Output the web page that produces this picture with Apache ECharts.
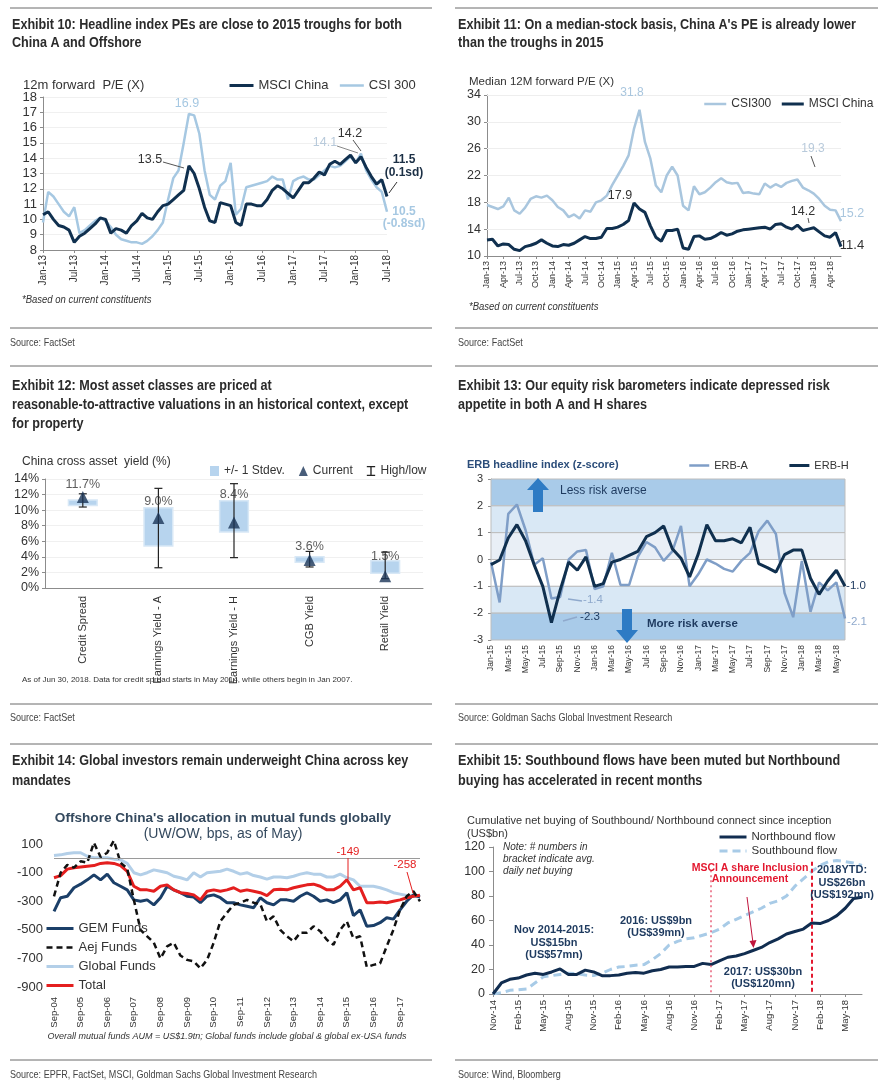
<!DOCTYPE html>
<html><head><meta charset="utf-8">
<script src="https://cdn.jsdelivr.net/npm/echarts@6/dist/echarts.min.js"></script>
<style>html,body{margin:0;padding:0;background:#fff}#c{width:890px;height:1092px}</style>
</head><body><div id="c"></div>
<script>
// ---------------- DATA ----------------
const MON = ['Jan','Feb','Mar','Apr','May','Jun','Jul','Aug','Sep','Oct','Nov','Dec'];
function monthLabels(y0, m0, n, step) {
  const out = [];
  for (let i = 0; i < n; i++) { const t = y0 * 12 + m0 + i * step; out.push(MON[t % 12] + '-' + String(Math.floor(t / 12)).slice(-2)); }
  return out;
}
// Exhibit 10 (monthly Jan-13 .. Jul-18)
const months10 = monthLabels(2013, 0, 67, 1);
const msciChinaPE = [10.3,10.5,10.0,9.6,9.5,9.3,8.5,8.9,9.1,9.4,9.7,10.1,
  10.0,9.1,9.4,9.3,9.1,9.6,9.9,10.4,10.1,10.0,10.5,10.9,
  11.0,11.3,11.6,11.9,13.5,13.0,12.0,10.8,9.9,9.8,11.1,11.0,
  10.9,9.8,9.6,11.0,11.0,10.9,10.9,11.3,11.9,12.2,12.0,11.7,
  11.4,11.9,12.4,12.4,12.7,13.1,12.9,13.6,13.8,13.6,13.9,14.2,
  13.7,14.1,13.4,12.8,12.3,12.6,11.5];
const csi300PE = [9.8,11.8,11.5,11.0,10.5,10.2,10.8,9.1,9.3,9.6,9.9,10.1,
  9.9,9.5,9.0,8.7,8.6,8.5,8.5,8.4,8.6,8.9,9.3,9.8,
  11.3,12.7,13.2,15.0,16.9,16.8,15.6,13.2,11.6,11.3,12.2,12.5,
  13.7,10.3,10.7,12.1,12.2,12.3,12.4,12.5,12.8,12.6,12.6,11.3,
  12.5,12.7,12.8,12.6,12.6,12.9,13.2,13.5,13.4,13.5,13.8,14.1,
  13.7,14.3,13.2,12.6,12.1,11.8,10.5];
// Exhibit 11 (monthly Jan-13 .. Jun-18)
const months11 = monthLabels(2013, 0, 66, 1);
const csi300Median = [17.6,17.3,17.0,17.4,18.7,16.8,16.3,17.2,18.5,18.9,18.7,19.0,
  18.3,17.3,16.8,15.8,16.2,15.6,16.8,16.6,18.0,18.3,19.0,20.6,
  22.0,23.4,25.0,29.0,31.8,27.0,24.5,20.5,19.5,22.0,23.3,22.0,
  17.5,16.8,20.4,19.2,19.5,20.2,21.0,21.6,21.0,20.8,20.9,19.4,
  19.5,19.3,19.2,20.8,20.2,20.7,20.3,20.9,21.2,21.4,20.2,19.8,
  19.3,18.5,17.5,16.9,16.8,15.2];
const msciChinaMedian = [12.4,12.5,11.5,11.8,11.7,11.0,10.8,11.4,11.6,11.9,12.4,11.9,
  11.5,11.4,11.7,11.6,11.9,12.4,12.9,12.6,12.6,12.8,14.1,14.1,
  14.3,14.7,15.3,17.9,17.0,16.5,14.5,12.8,12.2,13.8,13.8,14.0,
  11.2,11.0,12.9,13.0,12.5,12.6,13.0,13.5,13.1,13.3,13.7,13.9,
  14.0,14.1,14.2,14.3,14.0,14.7,14.8,14.3,14.0,14.6,13.8,14.0,
  14.2,13.6,13.0,12.8,13.5,11.4];
const ticks11 = [10,14,18,22,26,30,34];
// Exhibit 12
const assetClasses = ['Credit Spread','Earnings Yield - A','Earnings Yield - H','CGB Yield','Retail Yield'];
const stdevLow  = [10.6, 5.4, 7.2, 3.3, 1.9];
const stdevHigh = [11.3, 10.3, 11.2, 4.0, 3.5];
const histLow   = [10.4, 2.6, 3.9, 2.7, 1.2];
const histHigh  = [12.1, 12.8, 13.4, 4.7, 4.6];
const currentYield = [11.7, 9.0, 8.4, 3.6, 1.5];
// Exhibit 13 (monthly Jan-15 .. Jun-18)
const months13 = monthLabels(2015, 0, 42, 1);
const erbA = [-0.1,-1.6,1.7,2.05,1.1,-0.2,0.05,-1.45,-1.4,0.0,0.3,0.35,
  -1.1,-1.0,0.25,-0.95,-0.95,0.1,0.65,0.45,-0.05,0.3,1.25,-1.0,
  -0.55,0.0,-0.15,-0.35,-0.45,-0.05,0.25,1.05,1.45,0.95,-1.25,-2.15,
  -0.05,-1.95,-0.85,-1.15,-0.85,-2.2];
const erbH = [-0.19,-0.02,0.8,1.3,0.7,-0.2,-1.0,-2.35,-1.15,-0.1,-0.4,0.1,
  -1.0,-0.9,-0.1,0.0,0.15,0.3,0.85,1.0,1.25,0.4,0.05,-0.65,
  0.2,1.3,0.7,0.7,0.77,0.62,1.2,-0.15,-0.3,-0.47,0.18,0.35,
  0.35,-0.7,-1.3,-0.8,-0.4,-1.0];
// Exhibit 14 (quarterly Sep-04 .. Jun-18)
const quarters14 = monthLabels(2004, 8, 56, 3);
const gemFunds = [-370,-275,-265,-205,-180,-150,-115,-150,-110,-170,-195,-220,
  -290,-300,-290,-325,-275,-195,-220,-240,-265,-270,-310,-265,
  -255,-275,-310,-310,-325,-335,-345,-275,-310,-325,-290,-290,
  -300,-265,-240,-265,-300,-290,-310,-290,-240,-400,-360,-475,
  -470,-450,-415,-425,-360,-300,-255,-270];
const aejFunds = [-265,-100,-45,-65,-20,-30,110,10,40,125,-30,-70,
  -290,-500,-545,-590,-700,-615,-590,-680,-710,-720,-770,-710,
  -590,-440,-380,-325,-310,-290,-310,-320,-440,-405,-500,-545,
  -580,-520,-520,-475,-510,-570,-605,-500,-440,-560,-545,-760,
  -745,-735,-615,-500,-360,-265,-230,-300];
const globalFunds = [20,25,35,40,40,15,5,5,5,-5,-10,-35,
  -100,-115,-100,-80,-90,-100,-125,-135,-150,-100,-130,-100,
  -95,-90,-75,-90,-110,-100,-120,-130,-145,-130,-130,-135,
  -125,-110,-100,-110,-110,-130,-130,-110,-135,-150,-195,-195,
  -195,-205,-220,-240,-250,-260,-265,-270];
const totalFunds = [-135,-120,-75,-65,-60,-55,-50,-35,-30,-35,-50,-90,
  -195,-220,-220,-230,-195,-185,-220,-240,-245,-255,-290,-230,
  -220,-230,-220,-205,-230,-220,-230,-240,-260,-220,-215,-220,
  -205,-195,-185,-180,-195,-220,-220,-195,-149,-220,-205,-310,
  -310,-305,-310,-300,-290,-275,-265,-258];
const ticks14 = [-900,-700,-500,-300,-100,100];
// Exhibit 15 (monthly Nov-14 .. Jul-18, US$bn)
const months15 = monthLabels(2014, 10, 45, 1);
const northbound = [0,9,12,13,15.5,17,16,18,20.5,16,16,19.5,18,15,15,15.5,17,17.5,17,19,20,22,22,22.5,22.5,
  25,24,27,30,31,33,35.5,38,42,45,49,51,53,58,57.5,60,64,70,78,79];
const southbound = [0,1,3,3.5,4,9,14,15,16,17,16.5,15.5,15,17,20,22,22.5,23.5,24,28,33,40,43,45,46,
  48,50,53,58,61,64,67,70,74,76,80,88,94,100,105,108,109,108,107,105];

// ---------------- STYLE ----------------
const SANS = '"Liberation Sans",Arial,Helvetica,sans-serif';
const NAVY = '#10304f';
const AX = '#8c8c8c';
function txt(x, y, text, font, fill, align, sx) {
  const el = {type:'text', x:x, y:y, z:100, silent:true,
    style:{text:text, font:font, fill:fill || '#333', align:align || 'left', verticalAlign:'middle'}};
  if (sx) el.scaleX = sx;
  return el;
}
function ln(x1, y1, x2, y2, stroke, w) {
  return {type:'line', z:100, silent:true, shape:{x1:x1, y1:y1, x2:x2, y2:y2}, style:{stroke:stroke || '#555', lineWidth:w || 1}};
}
const F = (s) => s + 'px ' + SANS;

const gfx = [];
[8, 328, 366, 704, 744, 1060].forEach(y => { gfx.push(ln(10, y, 432, y, '#6b6b6b', 1)); gfx.push(ln(455, y, 878, y, '#6b6b6b', 1)); });
const TF = 'bold 14px ' + SANS, SF = '10.5px ' + SANS;
[[12,25,'Exhibit 10: Headline index PEs are close to 2015 troughs for both'],[12,43,'China A and Offshore'],
 [458,25,"Exhibit 11: On a median-stock basis, China A's PE is already lower"],[458,43,'than the troughs in 2015'],
 [12,386,'Exhibit 12: Most asset classes are priced at'],[12,405,'reasonable-to-attractive valuations in an historical context, except'],[12,424,'for property'],
 [458,386,'Exhibit 13: Our equity risk barometers indicate depressed risk'],[458,405,'appetite in both A and H shares'],
 [12,761,'Exhibit 14: Global investors remain underweight China across key'],[12,781,'mandates'],
 [458,761,'Exhibit 15: Southbound flows have been muted but Northbound'],[458,781,'buying has accelerated in recent months']
].forEach(t => gfx.push(txt(t[0], t[1], t[2], TF, '#2b2b2b', 'left', 0.9)));
[[10,343,'Source: FactSet'],[458,343,'Source: FactSet'],[10,718,'Source: FactSet'],
 [458,718,'Source: Goldman Sachs Global Investment Research'],
 [10,1075,'Source: EPFR, FactSet, MSCI, Goldman Sachs Global Investment Research'],[458,1075,'Source: Wind, Bloomberg']
].forEach(t => gfx.push(txt(t[0], t[1], t[2], SF, '#444', 'left', 0.86)));

// panel 1 texts
gfx.push(txt(23, 85, '12m forward  P/E (X)', F(13)));
gfx.push(txt(22, 300, '*Based on current constituents', 'italic ' + F(10), '#333', 'left', 0.95));
gfx.push(txt(187, 104, '16.9', F(12.5), '#a6c8e2', 'center'));
gfx.push(txt(150, 160, '13.5', F(12.5), '#333', 'center'), ln(163, 162, 184, 168, '#555'));
gfx.push(txt(325, 143, '14.1', F(12.5), '#b8cadb', 'center'), ln(337, 146, 358, 153, '#888'));
gfx.push(txt(350, 134, '14.2', F(12.5), '#333', 'center'), ln(353, 140, 361, 151, '#555'));
gfx.push(txt(404, 160, '11.5', 'bold ' + F(12), '#1b2f45', 'center'), txt(404, 173, '(0.1sd)', 'bold ' + F(12), '#1b2f45', 'center'), ln(397, 182, 389, 193, '#333'));
gfx.push(txt(404, 212, '10.5', 'bold ' + F(12), '#a6c8e2', 'center'), txt(404, 224, '(-0.8sd)', 'bold ' + F(12), '#a6c8e2', 'center'));
// panel 2 texts
gfx.push(txt(469, 82, 'Median 12M forward P/E (X)', F(11.5)));
gfx.push(txt(469, 307, '*Based on current constituents', 'italic ' + F(10), '#333', 'left', 0.95));
gfx.push(txt(632, 93, '31.8', F(12), '#a9c6de', 'center'));
gfx.push(txt(620, 196, '17.9', F(12.5), '#333', 'center'));
gfx.push(txt(813, 149, '19.3', F(12), '#b8cadb', 'center'), ln(811, 156, 815, 167, '#555'));
gfx.push(txt(803, 212, '14.2', F(12.5), '#333', 'center'), ln(808, 218, 809, 223, '#555'));
gfx.push(txt(852, 214, '15.2', F(12.5), '#a9c6de', 'center'));
gfx.push(txt(852, 245, '11.4', F(13), '#333', 'center'));
// panel 3 texts
gfx.push(txt(22, 462, 'China cross asset  yield (%)', F(12)));
gfx.push(txt(22, 680, 'As of Jun 30, 2018. Data for credit spread starts in May 2014, while others begin in Jan 2007.', F(8)));
// panel 4 texts
gfx.push(txt(467, 465, 'ERB headline index (z-score)', 'bold ' + F(11), '#2b4d7a'));
gfx.push({type:'polygon', z:100, silent:true, shape:{points:[[533,512],[533,490],[527,490],[538,478],[549,490],[543,490],[543,512]]}, style:{fill:'#2e7bc4'}});
gfx.push({type:'polygon', z:100, silent:true, shape:{points:[[622,609],[632,609],[632,630],[638,630],[627,643],[616,630],[622,630]]}, style:{fill:'#2e7bc4'}});
gfx.push(txt(560, 491, 'Less risk averse', F(12), '#1e3a5f'));
gfx.push(txt(647, 624, 'More risk averse', 'bold ' + F(11.5), '#1e3a5f'));
gfx.push(txt(593, 600, '-1.4', F(11.5), '#8fa9cc', 'center'), ln(568, 599, 582, 601, '#8fa9cc', 1.5));
gfx.push(txt(590, 617, '-2.3', F(11.5), '#1e3a5f', 'center'), ln(563, 621, 577, 617, '#8fa9cc', 1.5));
gfx.push(txt(856, 586, '-1.0', F(11.5), '#1e3a5f', 'center'));
gfx.push(txt(857, 622, '-2.1', F(11.5), '#8fa9cc', 'center'));
// panel 5 texts
gfx.push(txt(223, 818, "Offshore China's allocation in mutual funds globally", 'bold ' + F(13.6), '#34495e', 'center'));
gfx.push(txt(223, 834, '(UW/OW, bps, as of May)', F(14), '#34495e', 'center'));
gfx.push(txt(227, 1036, 'Overall mutual funds AUM = US$1.9tn; Global funds include global & global ex-USA funds', 'italic ' + F(9), '#333', 'center'));
gfx.push(txt(348, 852, '-149', F(11.5), '#e41f1f', 'center'), ln(348, 858, 348, 879, '#e41f1f'));
gfx.push(txt(405, 865, '-258', F(11.5), '#e41f1f', 'center'), ln(407, 872, 413, 893, '#e41f1f'));
// panel 6 texts
gfx.push(txt(467, 821, 'Cumulative net buying of Southbound/ Northbound connect since inception', F(11)));
gfx.push(txt(467, 834, '(US$bn)', F(11)));
gfx.push(txt(503, 847, 'Note: # numbers in', 'italic ' + F(10)), txt(503, 859, 'bracket indicate avg.', 'italic ' + F(10)), txt(503, 871, 'daily net buying', 'italic ' + F(10)));
const NB = 'bold ' + F(11), NC = '#1e3a5f';
gfx.push(txt(554, 930, 'Nov 2014-2015:', NB, NC, 'center'), txt(554, 943, 'US$15bn', NB, NC, 'center'), txt(554, 955, '(US$57mn)', NB, NC, 'center'));
gfx.push(txt(656, 921, '2016: US$9bn', NB, NC, 'center'), txt(656, 933, '(US$39mn)', NB, NC, 'center'));
gfx.push(txt(750, 868, 'MSCI A share Inclusion', 'bold ' + F(10.5), '#e3182f', 'center'), txt(750, 879, 'Announcement', 'bold ' + F(10.5), '#e3182f', 'center'));
gfx.push(ln(747, 897, 753, 943, '#c0143c', 1));
gfx.push({type:'polygon', z:100, silent:true, shape:{points:[[749.5,941],[756.5,940],[753.5,948]]}, style:{fill:'#c0143c'}});
gfx.push(txt(763, 972, '2017: US$30bn', NB, NC, 'center'), txt(763, 984, '(US$120mn)', NB, NC, 'center'));
gfx.push(txt(842, 870, '2018YTD:', NB, NC, 'center'), txt(842, 883, 'US$26bn', NB, NC, 'center'), txt(842, 895, '(US$192mn)', NB, NC, 'center'));

// ---------------- AXES ----------------
function catAxis(gi, data, interval, fontSize, margin, extra) {
  return Object.assign({type:'category', gridIndex:gi, data:data, boundaryGap:false,
    axisLine:{lineStyle:{color:AX}}, axisTick:{interval:interval, length:3, lineStyle:{color:AX}},
    axisLabel:{interval:interval, rotate:90, fontSize:fontSize, color:'#333', margin:margin, fontFamily:SANS},
    splitLine:{show:false}}, extra || {});
}
function valAxis(gi, extra) {
  return Object.assign({type:'value', gridIndex:gi,
    axisLine:{show:true, lineStyle:{color:AX}}, axisTick:{show:true, length:3, lineStyle:{color:AX}},
    axisLabel:{fontSize:12.5, color:'#333', margin:6, fontFamily:SANS},
    splitLine:{show:false}}, extra || {});
}
const xAxes = [
  catAxis(0, months10, 5, 10, 5),
  catAxis(1, months11, 2, 9, 5),
  {type:'category', gridIndex:2, data:assetClasses, boundaryGap:true,
    axisLine:{lineStyle:{color:AX}}, axisTick:{length:5, lineStyle:{color:AX}},
    axisLabel:{interval:0, rotate:90, fontSize:11, color:'#333', margin:8, fontFamily:SANS}},
  catAxis(3, months13, 1, 8.5, 5),
  catAxis(4, quarters14, 3, 9.5, 10, {axisLine:{show:false}, axisTick:{show:false}}),
  catAxis(5, months15, 2, 9.5, 6)
];
const yAxes = [
  valAxis(0, {min:8, max:18, interval:1, axisLabel:{fontSize:13, color:'#333', margin:6}, splitLine:{show:true, lineStyle:{color:'#f0f0f0'}}}),
  valAxis(1, {min:10, max:34, axisLabel:{customValues:ticks11, fontSize:12.5, color:'#333', margin:6}, axisTick:{show:true, length:3, customValues:ticks11, lineStyle:{color:AX}}}),
  valAxis(2, {min:0, max:14, interval:2, axisLabel:{formatter:'{value}%', fontSize:12.5, color:'#333', margin:6}, splitLine:{show:true, lineStyle:{color:'#f0f0f0'}}}),
  valAxis(3, {min:-3, max:3, interval:1, axisLabel:{fontSize:11, color:'#333', margin:8}}),
  valAxis(4, {min:-900, max:150, axisLine:{show:false}, axisTick:{show:false}, axisLabel:{customValues:ticks14, fontSize:13, color:'#333', margin:11}}),
  valAxis(5, {min:0, max:120, interval:20, axisLabel:{fontSize:12.5, color:'#333', margin:8}, axisTick:{show:true, length:4, lineStyle:{color:AX}}})
];

// ---------------- SERIES ----------------
function lineS(name, gi, data, color, width, extra) {
  return Object.assign({type:'line', name:name, xAxisIndex:gi, yAxisIndex:gi, data:data, symbol:'none',
    lineStyle:{color:color, width:width}, itemStyle:{color:color}, silent:true}, extra || {});
}
const BAND_D = '#a9cbe9', BAND_L = '#d9e8f5', BAND_G = '#e9eff6';
const bandBorder = {borderColor:'#bdbdbd', borderWidth:1};
function band(a, b, c) { return [{yAxis:a, itemStyle:Object.assign({color:c}, bandBorder)}, {yAxis:b}]; }
const labelDist3 = [0, 4, 16, 1, 7];

const series = [
  lineS('CSI 300', 0, csi300PE, '#a6c8e2', 2.5),
  lineS('MSCI China', 0, msciChinaPE, NAVY, 3),
  lineS('CSI300', 1, csi300Median, '#a9c6de', 2.5, {
    markLine:{silent:true, symbol:'none', z:1, label:{show:false}, lineStyle:{color:'#eeeeee', type:'solid', width:1},
      data:ticks11.slice(1).map(v => ({yAxis:v}))}}),
  lineS('MSCI China', 1, msciChinaMedian, NAVY, 3),
  {type:'custom', name:'+/- 1 Stdev.', xAxisIndex:2, yAxisIndex:2, silent:true, itemStyle:{color:'#b7d4ee'},
    data:assetClasses.map((c, i) => [i, stdevLow[i], stdevHigh[i]]), encode:{x:0, y:[1, 2]},
    renderItem:function(params, api) {
      const i = api.value(0), lo = api.coord([i, api.value(1)]), hi = api.coord([i, api.value(2)]);
      const w = api.size([1, 0])[0] * 0.38;
      return {type:'rect', shape:{x:lo[0] - w / 2, y:hi[1], width:w, height:lo[1] - hi[1]}, style:{fill:'#b7d4ee', stroke:'#d8e8f6', lineWidth:1.5}};
    }},
  {type:'custom', name:'High/low', xAxisIndex:2, yAxisIndex:2, silent:true, itemStyle:{color:'#222'},
    data:assetClasses.map((c, i) => [i, histLow[i], histHigh[i]]), encode:{x:0, y:[1, 2]},
    renderItem:function(params, api) {
      const i = api.value(0), lo = api.coord([i, api.value(1)]), hi = api.coord([i, api.value(2)]);
      const st = {stroke:'#222', lineWidth:1.2}, cap = 4;
      return {type:'group', children:[
        {type:'line', shape:{x1:lo[0], y1:lo[1], x2:hi[0], y2:hi[1]}, style:st},
        {type:'line', shape:{x1:lo[0] - cap, y1:lo[1], x2:lo[0] + cap, y2:lo[1]}, style:st},
        {type:'line', shape:{x1:hi[0] - cap, y1:hi[1], x2:hi[0] + cap, y2:hi[1]}, style:st}]};
    }},
  {type:'scatter', name:'Current', xAxisIndex:2, yAxisIndex:2, silent:true, symbol:'triangle', symbolSize:12,
    itemStyle:{color:'#1a3557'},
    label:{show:true, position:'top', fontSize:12.5, color:'#333', fontFamily:SANS, formatter:p => p.value[1].toFixed(1) + '%'},
    data:currentYield.map((v, i) => ({value:[i, v], label:{distance:labelDist3[i]}}))},
  lineS('ERB-A', 3, erbA, '#7f9ec7', 2.5, {
    markArea:{silent:true, data:[band(2, 3, BAND_D), band(1, 2, BAND_L), band(0, 1, BAND_G), band(-1, 0, '#ffffff'), band(-2, -1, BAND_L), band(-3, -2, BAND_D)]}}),
  lineS('ERB-H', 3, erbH, NAVY, 3),
  lineS('Global Funds', 4, globalFunds, '#b3cfe8', 3, {
    markLine:{silent:true, symbol:'none', label:{show:false}, lineStyle:{color:'#9a9a9a', type:'solid', width:1}, data:[{yAxis:0}]}}),
  lineS('GEM Funds', 4, gemFunds, '#1b3f68', 3),
  lineS('Total', 4, totalFunds, '#e41f1f', 3),
  lineS('Aej Funds', 4, aejFunds, '#111111', 2.5, {lineStyle:{color:'#111111', width:2.5, type:[6, 4]}}),
  lineS('Southbound flow', 5, southbound, '#a8cbe7', 3, {lineStyle:{color:'#a8cbe7', width:3, type:[8, 5]}}),
  lineS('Northbound flow', 5, northbound, '#112d50', 3, {
    markLine:{silent:true, symbol:'none', label:{show:false}, data:[
      [{coord:[13.2, 125], lineStyle:{color:'#e3182f', width:2, type:[4, 3]}}, {coord:[13.2, 0]}],
      [{coord:[25.5, 101], lineStyle:{color:'#e8627a', width:1.5, type:[2, 3]}}, {coord:[25.5, 0]}],
      [{coord:[37.6, 108], lineStyle:{color:'#e3182f', width:2, type:[4, 3]}}, {coord:[37.6, 0]}]]}})
];

// ---------------- LEGENDS ----------------
const legLine = {width:'inherit', type:'inherit'};
const legBase = {padding:0, selectedMode:false, itemStyle:{opacity:0}, lineStyle:legLine};
const legends = [
  Object.assign({}, legBase, {data:['MSCI China', 'CSI 300'], left:228, top:79, itemWidth:24, itemHeight:12, itemGap:10, textStyle:{fontSize:13, color:'#333', fontFamily:SANS}}),
  Object.assign({}, legBase, {data:['CSI300', 'MSCI China'], left:703, top:98, itemWidth:22, itemHeight:12, itemGap:9, textStyle:{fontSize:12, color:'#333', fontFamily:SANS}}),
  {padding:0, selectedMode:false, left:210, top:465, itemWidth:9, itemHeight:10, itemGap:14, textStyle:{fontSize:12, color:'#333', fontFamily:SANS},
    data:[{name:'+/- 1 Stdev.', icon:'rect'}, {name:'Current', icon:'triangle'},
      {name:'High/low', icon:'path://M0,0h10v1.5h-4.2v9h4.2v1.5h-10v-1.5h4.2v-9h-4.2z'}]},
  Object.assign({}, legBase, {data:['ERB-A', 'ERB-H'], left:688, top:460, itemWidth:20, itemHeight:12, itemGap:40, textStyle:{fontSize:11, color:'#333', fontFamily:SANS}}),
  Object.assign({}, legBase, {data:['GEM Funds', 'Aej Funds', 'Global Funds', 'Total'], orient:'vertical', left:45, top:922, itemWidth:27, itemHeight:13, itemGap:6, textStyle:{fontSize:13, color:'#333', fontFamily:SANS}}),
  Object.assign({}, legBase, {data:['Northbound flow', 'Southbound flow'], orient:'vertical', left:718, top:831, itemWidth:27, itemHeight:12, itemGap:2, textStyle:{fontSize:11.5, color:'#333', fontFamily:SANS}})
];

const option = {
  animation:false,
  backgroundColor:'#ffffff',
  textStyle:{fontFamily:SANS},
  grid:[
    {left:43, top:97, width:344, height:153},
    {left:487, top:95, width:354, height:161},
    {left:45, top:479, width:378, height:109},
    {left:491, top:479, width:354, height:161},
    {left:54, top:837, width:366, height:150},
    {left:493, top:847, width:369, height:147}
  ],
  xAxis:xAxes, yAxis:yAxes, legend:legends, series:series,
  graphic:{elements:gfx}
};
const chart = echarts.init(document.getElementById('c'), null, {renderer:'canvas'});
chart.setOption(option);
</script></body></html>
